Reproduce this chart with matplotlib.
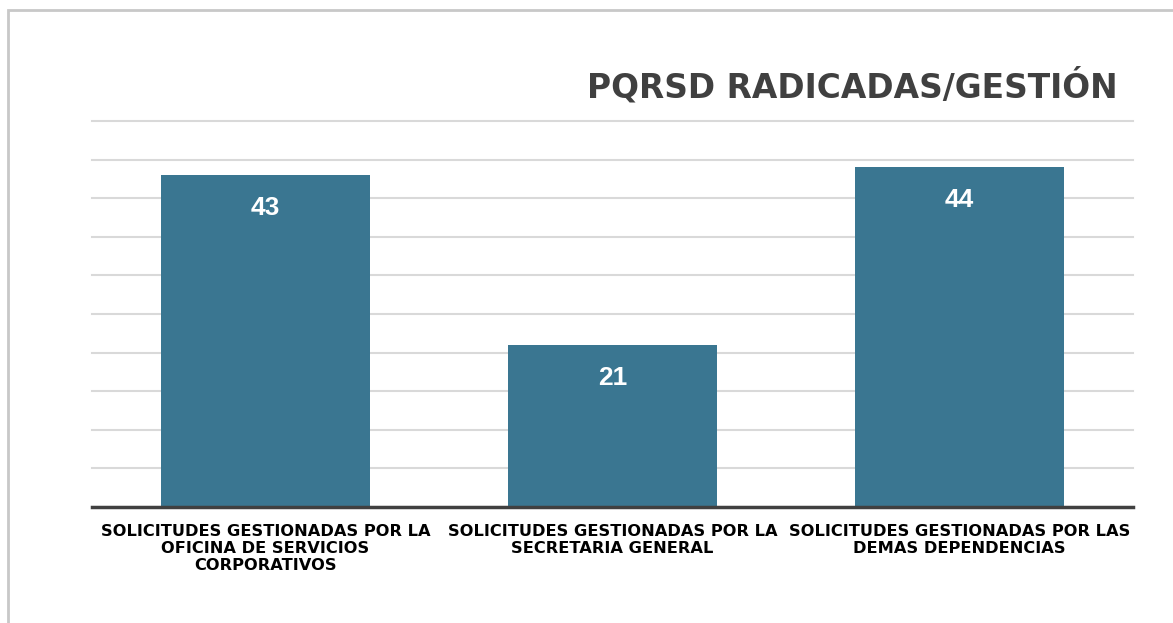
import matplotlib.pyplot as plt
from matplotlib.patches import Rectangle

categorias = ['SOLICITUDES GESTIONADAS POR LA\nOFICINA DE SERVICIOS\nCORPORATIVOS',
              'SOLICITUDES GESTIONADAS POR LA\nSECRETARIA GENERAL',
              'SOLICITUDES GESTIONADAS POR LAS\nDEMAS DEPENDENCIAS']
valores = [43, 21, 44]
titulo = 'PQRSD RADICADAS/GESTIÓN'

W, H = 1173, 623
fig = plt.figure(figsize=(W/100, H/100), dpi=100)
ax = fig.add_axes([92/W, 1-507/H, (1133-92)/W, (507-121)/H])

x = range(len(valores))
ax.bar(x, valores, width=0.6, color='#3a7691', zorder=2)
ax.set_xlim(-0.5, 2.5)
ax.set_ylim(0, 50)
ax.set_yticks(range(0, 51, 5))
ax.yaxis.grid(True, color='#d9d9d9', linewidth=1.5, zorder=0)
for gl in ax.get_ygridlines():
    gl.set_clip_on(False)
ax.tick_params(axis='y', length=0, labelleft=False)
ax.tick_params(axis='x', length=0, pad=12)
ax.set_xticks(list(x))
ax.set_xticklabels(categorias, fontsize=11.7, fontweight='bold', color='black',
                   family='DejaVu Sans', linespacing=1.17)
for s in ['top', 'right', 'left']:
    ax.spines[s].set_visible(False)
ax.spines['bottom'].set_color('#404040')
ax.spines['bottom'].set_linewidth(2.5)
ax.spines['bottom'].set_zorder(3)

for i, v in enumerate(valores):
    ax.annotate(str(v), (i, v), xytext=(0, -33), textcoords='offset pixels',
                ha='center', va='center', color='white', fontsize=19,
                fontweight='bold', family='Liberation Sans', zorder=4)

fig.text(1118/W, 1-97/H, titulo, ha='right', va='baseline', fontsize=23.7,
         fontweight='bold', color='#404040', family='DejaVu Sans')

fig.patches.append(Rectangle((8/W, -0.1), 1.2, 1.1-10/H, transform=fig.transFigure,
                             fill=False, edgecolor='#c8c8c8', linewidth=2))

fig.savefig('out.png', dpi=100)
